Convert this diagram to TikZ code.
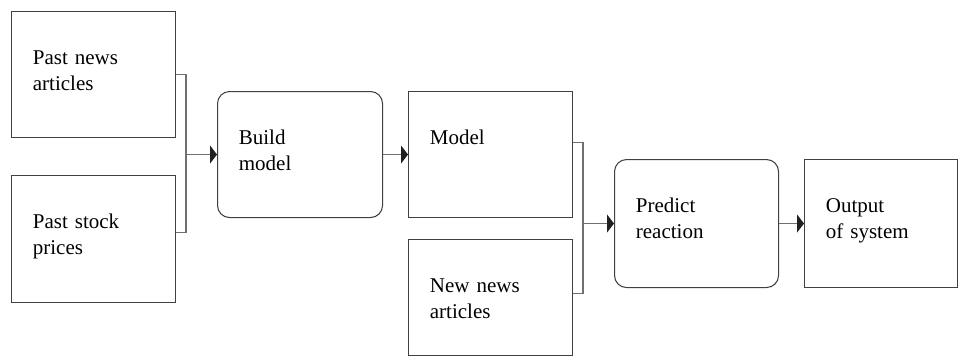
\documentclass[tikz,border=0pt]{standalone}
\usepackage{fontspec}
\setmainfont{Liberation Serif}
\usetikzlibrary{arrows.meta}
\definecolor{boxline}{HTML}{404040}
\definecolor{connline}{HTML}{707070}
\definecolor{tipfill}{HTML}{202020}
\begin{document}
\begin{tikzpicture}[x=0.75pt,y=-0.75pt,
  bx/.style={draw=boxline, line width=0.8pt, anchor=north west, inner xsep=16pt, inner ysep=0pt,
    align=left, text height=39.75pt, font=\fontsize{15.75pt}{19.5pt}\selectfont},
  rbx/.style={bx, rounded corners=9pt},
  conn/.style={draw=connline, line width=0.8pt},
  arr/.style={-{Triangle[length=5.25pt,width=13.5pt,color=tipfill]}}]
\useasboundingbox (0,0) rectangle (959,360);
% boxes
\node[bx, text width=91pt, text depth=54.75pt] (pn) at (11,11) {Past news\\articles};
\node[bx, text width=91pt, text depth=55.5pt] (ps) at (11,175) {Past stock\\prices};
\node[rbx, text width=91.75pt, text depth=54.75pt] (bm) at (217,91) {Build\\model};
\node[bx, text width=91pt, text depth=54.75pt] (md) at (408,91) {Model};
\node[bx, text width=91pt, text depth=47.25pt] (nn) at (408,239) {New news\\articles};
\node[rbx, text width=91pt, text depth=56.25pt] (pr) at (614,159) {Predict\\reaction};
\node[bx, text width=82.75pt, text depth=56.25pt] (out) at (804,159) {Output\\of system};
% junction coordinates
\coordinate (j1) at (186,0);
\coordinate (j2) at (583,0);
\coordinate (psb) at ([yshift=4.9pt]ps.east);
\coordinate (mdt) at ([yshift=9pt]md.east);
\coordinate (nnb) at ([yshift=3pt]nn.east);
% brackets
\draw[conn] (pn.east) -- (pn.east -| j1) -- (psb -| j1) -- (psb);
\draw[conn] (mdt) -- (mdt -| j2) -- (nnb -| j2) -- (nnb);
% arrows
\draw[conn,arr] (j1 |- bm.west) -- (bm.west);
\draw[conn,arr] (bm.east) -- (md.west);
\draw[conn,arr] (j2 |- pr.west) -- (pr.west);
\draw[conn,arr] (pr.east) -- (out.west);
\end{tikzpicture}
\end{document}
